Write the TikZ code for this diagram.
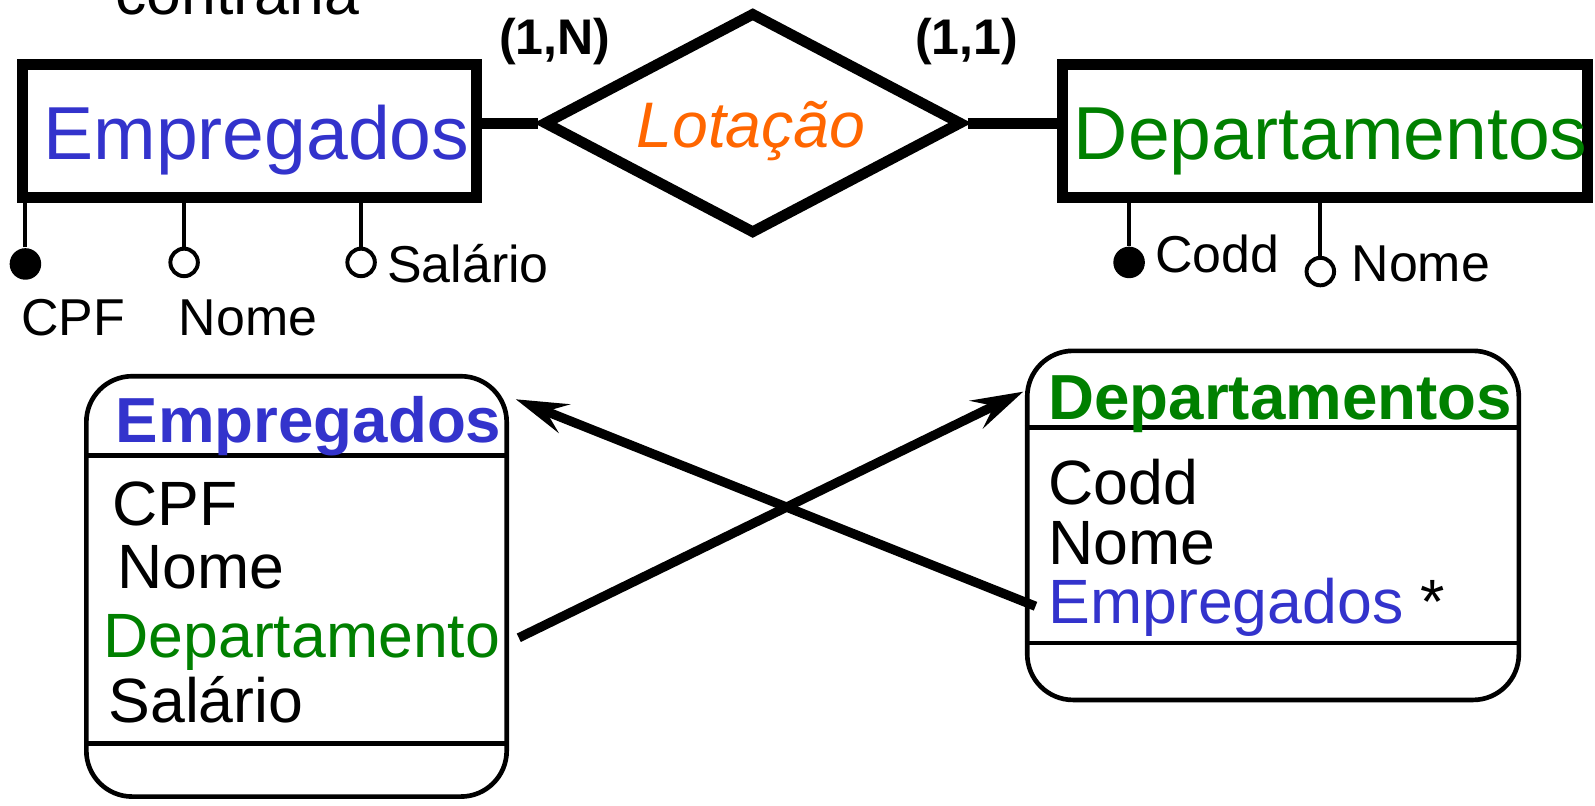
\documentclass[tikz,border=0pt]{standalone}
\usepackage{fontspec}
\setmainfont{Liberation Sans}
\usetikzlibrary{shapes.geometric,arrows.meta}
\definecolor{empblue}{RGB}{51,51,204}
\definecolor{depgreen}{RGB}{0,128,0}
\definecolor{relorange}{RGB}{255,102,0}
\begin{document}
\begin{tikzpicture}[x=0.01cm,y=-0.01cm,
  erbox/.style={draw, line width=3.1pt, inner sep=0pt, minimum height=1.31cm},
  relshape/.style={draw, diamond, line width=3pt, inner sep=0pt, minimum width=4.115cm, minimum height=2.18cm},
  erline/.style={line width=3.1pt},
  attrline/.style={line width=1.1pt},
  keyattr/.style={circle, fill, inner sep=0pt, minimum size=0.31cm},
  plainattr/.style={circle, draw, line width=1.1pt, fill=white, inner sep=0pt, minimum size=0.27cm},
  txt/.style={anchor=base west, inner sep=0pt},
  big/.style={font=\fontsize{21}{25}\selectfont},
  mid/.style={font=\fontsize{17.5}{21}\selectfont},
  midb/.style={font=\fontsize{17.8}{21}\selectfont\bfseries},
  small/.style={font=\fontsize{14.5}{17}\selectfont},
  card/.style={font=\fontsize{14}{17}\selectfont\bfseries},
  clsbox/.style={draw, line width=1.3pt, rounded corners=0.45cm, inner sep=0pt},
  clsline/.style={line width=1.3pt},
  assoc/.style={line width=2.6pt, -{Stealth[length=14.5pt,width=8.5pt,inset=5.4pt]}}
]
\useasboundingbox (0,0) rectangle (1568,792);

% title fragment
\node[txt, mid] (title) at (113,14) {contrária};

% ER part
\node[erbox, minimum width=4.465cm] (empER) at (245.3,129) {};
\node[txt, big, text=empblue] (empERt) at (42,157) {Empregados};
\node[relshape] (lot) at (740,121) {};
\node[txt, text=relorange, font=\fontsize{18}{21}\selectfont\itshape] (lott) at (625,145) {Lotação};
\node[erbox, minimum width=5.16cm] (depER) at (1302.5,129) {};
\node[txt, big, text=depgreen] (depERt) at (1055,157) {Departamentos};
\draw[erline] (empER.east |- lot.west) -- (lot.west);
\draw[erline] (lot.east) -- (depER.west |- lot.east);
\node[txt, card] (c1) at (490,54) {(1,N)};
\node[txt, card] (c2) at (899,54) {(1,1)};

% attributes of Empregados
\node[keyattr] (cpfd) at (25,259.5) {};
\node[plainattr] (nomed) at (181,258) {};
\node[plainattr] (sald) at (355,258) {};
\draw[attrline] (cpfd) -- (cpfd |- empER.south);
\draw[attrline] (nomed) -- (nomed |- empER.south);
\draw[attrline] (sald) -- (sald |- empER.south);
\node[txt, small] (cpfl) at (20,330) {CPF};
\node[txt, small] (noml) at (175,330) {Nome};
\node[txt, small] (sall) at (380,278) {Salário};

% attributes of Departamentos
\node[keyattr] (coddd) at (1110,258) {};
\node[plainattr] (dnomed) at (1298,267) {};
\draw[attrline] (coddd) -- (coddd |- depER.south);
\draw[attrline] (dnomed) -- (dnomed |- depER.south);
\node[txt, small] (coddl) at (1135,268) {Codd};
\node[txt, small] (dnoml) at (1328,277) {Nome};

% class Empregados
\node[clsbox, minimum width=4.13cm, minimum height=4.13cm] (empcls) at (291.5,576.5) {};
\draw[clsline] (empcls.west |- 0,448) -- (empcls.east |- 0,448);
\draw[clsline] (empcls.west |- 0,731) -- (empcls.east |- 0,731);
\node[txt, midb, text=empblue] (empclst) at (113,435) {Empregados};
\node[txt, mid] (e1) at (110,517) {CPF};
\node[txt, mid] (e2) at (115,579) {Nome};
\node[txt, mid, text=depgreen] (e3) at (101,646) {Departamento};
\node[txt, mid] (e4) at (106,710) {Salário};

% class Departamentos
\node[clsbox, minimum width=4.83cm, minimum height=3.43cm] (depcls) at (1251.5,516.5) {};
\draw[clsline] (depcls.west |- 0,420) -- (depcls.east |- 0,420);
\draw[clsline] (depcls.west |- 0,632) -- (depcls.east |- 0,632);
\node[txt, midb, text=depgreen] (depclst) at (1030,412) {Departamentos};
\node[txt, mid] (d1) at (1030,496) {Codd};
\node[txt, mid] (d2) at (1030,555) {Nome};
\node[txt, mid] (d3) at (1030,613) {\textcolor{empblue}{Empregados} *};

% associations
\coordinate (a1s) at (510,627);
\coordinate (a1e) at (1006,385);
\coordinate (a2s) at (1018,596);
\coordinate (a2e) at (507,392.5);
\draw[assoc] (a1s) -- (a1e);
\draw[assoc] (a2s) -- (a2e);
\end{tikzpicture}
\end{document}
